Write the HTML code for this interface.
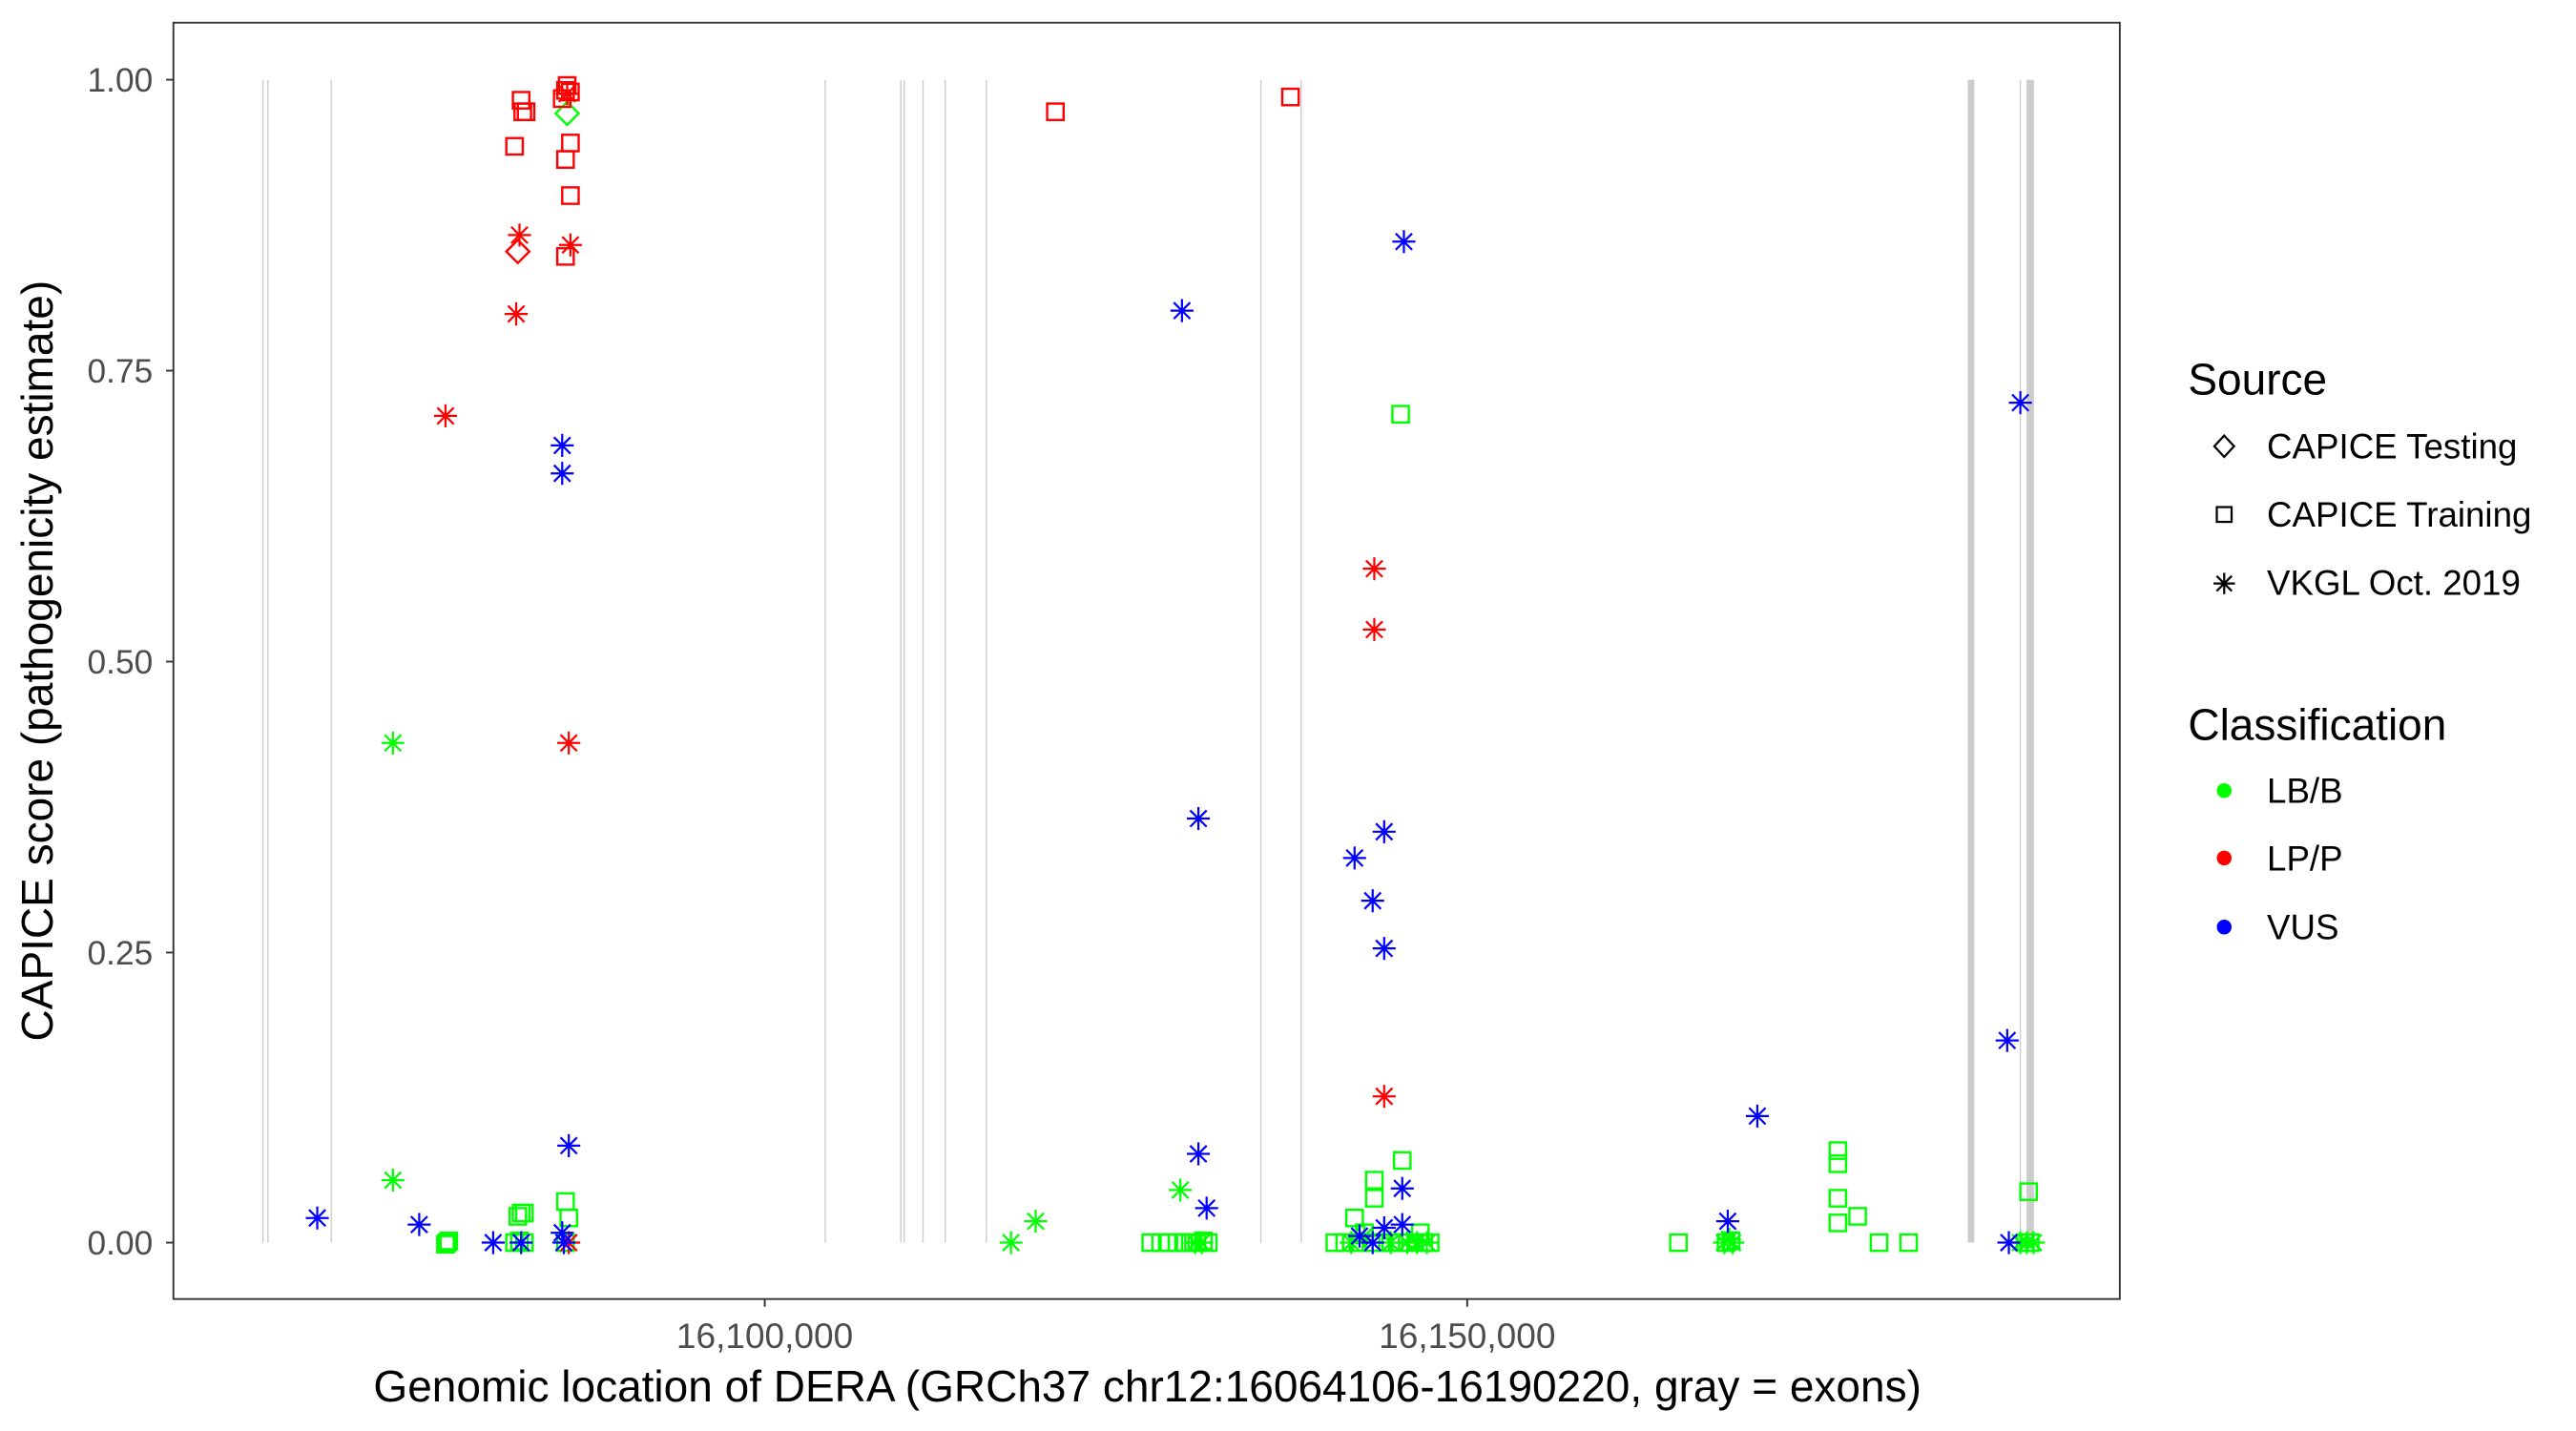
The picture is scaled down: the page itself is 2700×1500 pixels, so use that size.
<!DOCTYPE html>
<html><head><meta charset="utf-8"><style>
html,body{margin:0;padding:0;background:#fff;}
svg{display:block;}
text{font-family:"Liberation Sans",sans-serif;}
</style></head><body>
<svg width="2700" height="1500" viewBox="0 0 1567 870.6" preserveAspectRatio="none" xmlns="http://www.w3.org/2000/svg">
<defs>
<rect id="s" x="-5" y="-5" width="10" height="10" fill="none" stroke-width="1.4"/>
<g id="a" stroke-width="1.3"><line x1="-7" y1="0" x2="7" y2="0"/><line x1="0" y1="-7" x2="0" y2="7"/><line x1="-5" y1="-5" x2="5" y2="5"/><line x1="-5" y1="5" x2="5" y2="-5"/></g>
<polygon id="d" points="0,-7 7,0 0,7 -7,0" fill="none" stroke-width="1.4"/>
</defs>
<rect x="0" y="0" width="1567" height="871" fill="#fff"/>
<g stroke="#cccccc" stroke-width="0.8">
<line x1="160" y1="48.5" x2="160" y2="756"/>
<line x1="163" y1="48.5" x2="163" y2="756"/>
<line x1="201.5" y1="48.5" x2="201.5" y2="756"/>
<line x1="502" y1="48.5" x2="502" y2="756"/>
<line x1="548" y1="48.5" x2="548" y2="756"/>
<line x1="550" y1="48.5" x2="550" y2="756"/>
<line x1="561.5" y1="48.5" x2="561.5" y2="756"/>
<line x1="575" y1="48.5" x2="575" y2="756"/>
<line x1="600" y1="48.5" x2="600" y2="756"/>
<line x1="767" y1="48.5" x2="767" y2="756"/>
<line x1="791.5" y1="48.5" x2="791.5" y2="756"/>
<line x1="1199" y1="48.5" x2="1199" y2="756" stroke-width="4"/>
<line x1="1229" y1="48.5" x2="1229" y2="756"/>
<line x1="1235" y1="48.5" x2="1235" y2="756" stroke-width="4.5"/>
</g>
<g stroke="#00ff00">
<use href="#a" x="239" y="452"/><use href="#a" x="239" y="718"/>
<use href="#s" x="272" y="756"/><use href="#s" x="273" y="755"/><use href="#s" x="271" y="757"/>
<use href="#s" x="315" y="740"/><use href="#s" x="317" y="738"/><use href="#s" x="319" y="738"/><use href="#s" x="313" y="756"/><use href="#s" x="316" y="755"/><use href="#s" x="319" y="756"/>
<use href="#s" x="344" y="731"/><use href="#s" x="346" y="741"/><use href="#s" x="344" y="756"/>
<use href="#d" x="345" y="69"/>
<use href="#a" x="615" y="756"/><use href="#a" x="630" y="743"/><use href="#a" x="718" y="724"/>
<use href="#s" x="700" y="756"/><use href="#s" x="706" y="756"/><use href="#s" x="711" y="756"/><use href="#s" x="716" y="756"/><use href="#s" x="720" y="756"/><use href="#s" x="724" y="756"/><use href="#s" x="728" y="756"/><use href="#s" x="732" y="755"/><use href="#s" x="735" y="756"/>
<use href="#a" x="727" y="756"/><use href="#a" x="731" y="756"/>
<use href="#s" x="852" y="252"/>
<use href="#s" x="836" y="718"/><use href="#s" x="836" y="729"/><use href="#s" x="824" y="741"/><use href="#s" x="853" y="706"/><use href="#s" x="830" y="750"/>
<use href="#s" x="812" y="756"/><use href="#s" x="818" y="756"/><use href="#s" x="826" y="756"/><use href="#s" x="834" y="756"/><use href="#s" x="840" y="756"/><use href="#s" x="846" y="756"/><use href="#s" x="852" y="756"/><use href="#s" x="858" y="756"/><use href="#s" x="864" y="750"/><use href="#s" x="866" y="756"/><use href="#s" x="870" y="756"/>
<use href="#a" x="822" y="756"/><use href="#a" x="830" y="752"/><use href="#a" x="846" y="756"/><use href="#a" x="856" y="756"/><use href="#a" x="862" y="756"/><use href="#a" x="868" y="756"/>
<use href="#s" x="1021" y="756"/>
<use href="#a" x="1049" y="756"/><use href="#a" x="1052" y="754"/><use href="#a" x="1054" y="756"/><use href="#s" x="1050" y="756"/><use href="#s" x="1053" y="755"/>
<use href="#s" x="1118" y="700"/><use href="#s" x="1118" y="708"/><use href="#s" x="1118" y="729"/><use href="#s" x="1118" y="744"/><use href="#s" x="1130" y="740"/><use href="#s" x="1143" y="756"/><use href="#s" x="1161" y="756"/>
<use href="#s" x="1234" y="725"/>
<use href="#a" x="1229" y="756"/><use href="#a" x="1233" y="756"/><use href="#a" x="1237" y="756"/><use href="#s" x="1232" y="756"/><use href="#s" x="1235" y="756"/>
</g>
<g stroke="#ff0000">
<use href="#a" x="271" y="253"/>
<use href="#a" x="314" y="191"/><use href="#a" x="316" y="143"/>
<use href="#d" x="315" y="153"/>
<use href="#s" x="313" y="89"/><use href="#s" x="317" y="61"/><use href="#s" x="318" y="68"/><use href="#s" x="320" y="68"/>
<use href="#s" x="345" y="52"/><use href="#s" x="344" y="55"/><use href="#s" x="347" y="56"/><use href="#s" x="342" y="60"/>
<use href="#s" x="347" y="87"/><use href="#s" x="344" y="97"/><use href="#s" x="347" y="119"/><use href="#s" x="344" y="156"/>
<use href="#a" x="345" y="57"/><use href="#a" x="347" y="149"/><use href="#a" x="346" y="452"/><use href="#a" x="346" y="756"/>
<use href="#s" x="642" y="68"/><use href="#s" x="785" y="59"/>
<use href="#a" x="836" y="346"/><use href="#a" x="836" y="383"/><use href="#a" x="842" y="667"/>
</g>
<g stroke="#0000ff">
<use href="#a" x="193" y="741"/><use href="#a" x="255" y="745"/><use href="#a" x="300" y="756"/><use href="#a" x="317" y="756"/>
<use href="#a" x="342" y="271"/><use href="#a" x="342" y="288"/><use href="#a" x="346" y="697"/><use href="#a" x="342" y="750"/><use href="#a" x="343" y="756"/>
<use href="#a" x="719" y="189"/><use href="#a" x="729" y="498"/><use href="#a" x="729" y="702"/><use href="#a" x="734" y="735"/>
<use href="#a" x="854" y="147"/>
<use href="#a" x="824" y="522"/><use href="#a" x="835" y="548"/><use href="#a" x="842" y="506"/><use href="#a" x="842" y="577"/>
<use href="#a" x="853" y="723"/><use href="#a" x="842" y="747"/><use href="#a" x="853" y="745"/><use href="#a" x="827" y="752"/><use href="#a" x="835" y="756"/>
<use href="#a" x="1069" y="679"/><use href="#a" x="1051" y="743"/>
<use href="#a" x="1229" y="245"/><use href="#a" x="1221" y="633"/><use href="#a" x="1222" y="756"/>
</g>
<rect x="105.5" y="13.8" width="1184" height="776.5" fill="none" stroke="#333" stroke-width="1.1"/>
<g stroke="#333" stroke-width="1.1">
<line x1="101" y1="48.5" x2="105.5" y2="48.5"/><line x1="101" y1="225.5" x2="105.5" y2="225.5"/><line x1="101" y1="402.5" x2="105.5" y2="402.5"/><line x1="101" y1="579.5" x2="105.5" y2="579.5"/><line x1="101" y1="756" x2="105.5" y2="756"/>
<line x1="465.2" y1="790.3" x2="465.2" y2="795"/><line x1="892.5" y1="790.3" x2="892.5" y2="795"/>
</g>
<g fill="#4d4d4d" font-size="20.5" text-anchor="end">
<text x="93" y="55.8">1.00</text><text x="93" y="232.8">0.75</text><text x="93" y="409.8">0.50</text><text x="93" y="586.8">0.25</text><text x="93" y="763.3">0.00</text>
</g>
<g fill="#4d4d4d" font-size="21.5" text-anchor="middle">
<text x="465.2" y="820">16,100,000</text><text x="892.5" y="820">16,150,000</text>
</g>
<text x="698" y="852.5" font-size="26.7" text-anchor="middle" fill="#000">Genomic location of DERA (GRCh37 chr12:16064106-16190220, gray = exons)</text>
<text transform="translate(32,402) rotate(-90)" font-size="26.7" text-anchor="middle" fill="#000">CAPICE score (pathogenicity estimate)</text>
<text x="1331" y="240" font-size="26.7" fill="#000">Source</text>
<g stroke="#000">
<polygon points="1353,265 1359,271.5 1353,278 1347,271.5" fill="none" stroke-width="1.3"/>
<rect x="1348.5" y="308.5" width="9" height="9" fill="none" stroke-width="1.3"/>
<g transform="translate(1353,355)" stroke-width="1.3"><line x1="-6.5" y1="0" x2="6.5" y2="0"/><line x1="0" y1="-6.5" x2="0" y2="6.5"/><line x1="-4.6" y1="-4.6" x2="4.6" y2="4.6"/><line x1="-4.6" y1="4.6" x2="4.6" y2="-4.6"/></g>
</g>
<g font-size="21.3" fill="#000">
<text x="1379" y="279">CAPICE Testing</text>
<text x="1379" y="320.5">CAPICE Training</text>
<text x="1379" y="362">VKGL Oct. 2019</text>
</g>
<text x="1331" y="450" font-size="26.7" fill="#000">Classification</text>
<circle cx="1353" cy="481" r="4.5" fill="#00ff00"/>
<circle cx="1353" cy="522" r="4.5" fill="#ff0000"/>
<circle cx="1353" cy="564" r="4.5" fill="#0000ff"/>
<g font-size="21.3" fill="#000">
<text x="1379" y="488.5">LB/B</text>
<text x="1379" y="529.5">LP/P</text>
<text x="1379" y="571.5">VUS</text>
</g>
</svg>
</body></html>
